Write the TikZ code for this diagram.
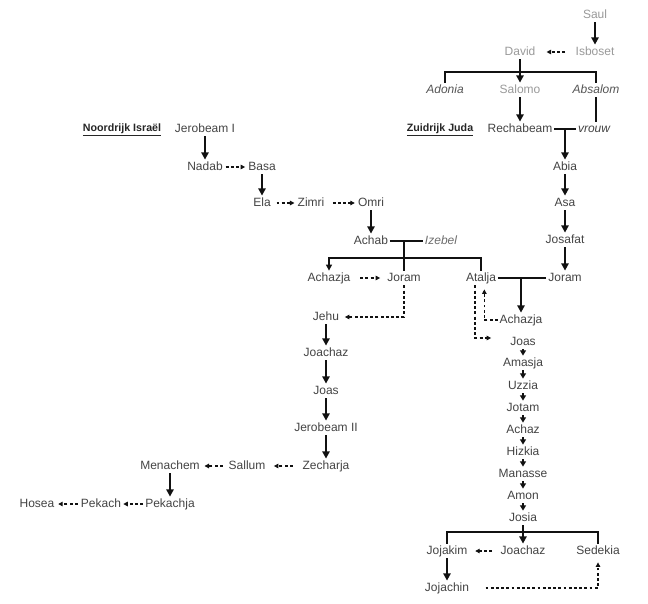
\documentclass[tikz,border=0pt]{standalone}
\usepackage{fontspec}
\setmainfont{Liberation Sans}
\usetikzlibrary{arrows.meta}
\definecolor{txt}{HTML}{444444}
\definecolor{lgt}{HTML}{9A9A9A}
\definecolor{ital}{HTML}{555555}
\definecolor{izb}{HTML}{6E6E6E}
\definecolor{ln}{HTML}{111111}
\begin{document}
\begin{tikzpicture}[x=0.75pt,y=-0.75pt,
  nm/.style={font=\fontsize{9}{10}\selectfont, text=txt, inner sep=1.2pt, text height=6.5pt, text depth=1.8pt},
  pale/.style={nm, text=lgt},
  it/.style={nm, text=ital, font=\fontsize{9}{10}\selectfont\itshape},
  realm/.style={font=\fontsize{8}{9}\selectfont\bfseries, text=black!85, inner sep=1pt},
  fam/.style={draw=ln, line width=0.9pt},
  famarr/.style={fam, -{Triangle[length=4.5pt,width=4.5pt]}},
  sarr/.style={draw=ln, line width=1.5pt, -{Triangle[length=5.5pt,width=5.5pt]}},
  smarr/.style={draw=ln, line width=1.2pt, -{Triangle[length=4pt,width=4.5pt]}},
  darr/.style={draw=ln, line width=0.8pt, dash pattern=on 2.2pt off 1.7pt, -{Triangle[length=3.4pt,width=3.4pt]}}
]
\path[fill=white,use as bounding box] (0,0) rectangle (648,603);

% ---- top (united kingdom)
\node[pale] (saul) at (595,15) {Saul};
\node[pale] (david) at (520,52) {David};
\node[pale] (isboset) at (595,52) {Isboset};
\node[it] (adonia) at (445,90) {Adonia};
\node[pale] (salomo) at (520,90) {Salomo};
\node[it] (absalom) at (596,90) {Absalom};

% ---- Juda
\node[realm] (zuid) at (440,130) {\underline{Zuidrijk Juda}};
\node[nm] (rech) at (520,129) {Rechabeam};
\node[it, text=txt] (vrouw) at (594,129) {vrouw};
\node[nm] (abia) at (565,167) {Abia};
\node[nm] (asa) at (565,203) {Asa};
\node[nm] (josafat) at (565,240) {Josafat};
\node[nm] (joramJ) at (565,278) {Joram};
\node[nm] (achazjaJ) at (521,320) {Achazja};
\node[nm] (joasJ) at (523,342) {Joas};
\node[nm] (amasja) at (523,363) {Amasja};
\node[nm] (uzzia) at (523,386) {Uzzia};
\node[nm] (jotam) at (523,408) {Jotam};
\node[nm] (achaz) at (523,430) {Achaz};
\node[nm] (hizkia) at (523,452) {Hizkia};
\node[nm] (manasse) at (523,474) {Manasse};
\node[nm] (amon) at (523,496) {Amon};
\node[nm] (josia) at (523,518) {Josia};
\node[nm] (jojakim) at (447,551) {Jojakim};
\node[nm] (joachazJ) at (523,551) {Joachaz};
\node[nm] (sedekia) at (598,551) {Sedekia};
\node[nm] (jojachin) at (447,588) {Jojachin};

% ---- Israel
\node[realm] (noord) at (122,130) {\underline{Noordrijk Israël}};
\node[nm] (jer1) at (205,129) {Jerobeam I};
\node[nm] (nadab) at (205,167) {Nadab};
\node[nm] (basa) at (262,167) {Basa};
\node[nm] (ela) at (262,203) {Ela};
\node[nm] (zimri) at (311,203) {Zimri};
\node[nm] (omri) at (371,203) {Omri};
\node[nm] (achab) at (371,241) {Achab};
\node[it, text=izb] (izebel) at (441,241) {Izebel};
\node[nm] (achazjaN) at (329,278) {Achazja};
\node[nm] (joramN) at (404,278) {Joram};
\node[nm] (atalja) at (481,278) {Atalja};
\node[nm] (jehu) at (326,317) {Jehu};
\node[nm] (joachazN) at (326,353) {Joachaz};
\node[nm] (joasN) at (326,391) {Joas};
\node[nm] (jer2) at (326,428) {Jerobeam II};
\node[nm] (zecharja) at (326,466) {Zecharja};
\node[nm] (sallum) at (247,466) {Sallum};
\node[nm] (menachem) at (170,466) {Menachem};
\node[nm] (pekachja) at (170,504) {Pekachja};
\node[nm] (pekach) at (101,504) {Pekach};
\node[nm] (hosea) at (37,504) {Hosea};

% ---- connectors: top
\draw[sarr] (saul) -- (isboset);
\draw[darr, shorten <=6.5pt, shorten >=7pt] (isboset) -- (david);
\coordinate (dbar) at (520,72);
\draw[fam] (adonia.north) |- (dbar) -| (absalom.north);
\draw[sarr] (david) -- (salomo);
\draw[sarr] (salomo) -- (rech);
\draw[fam] (absalom.south) -- (absalom.south |- vrouw.north);

% ---- Juda
\draw[fam] (rech.east) -- (vrouw.west);
\draw[sarr] (abia |- rech.east) -- (abia.north);
\draw[sarr] (abia) -- (asa);
\draw[sarr] (asa) -- (josafat);
\draw[sarr] (josafat) -- (joramJ);
\draw[fam] (atalja.east) -- (joramJ.west);
\draw[sarr] (achazjaJ |- atalja.east) -- (achazjaJ.north);
\draw[darr, shorten >=3pt] (achazjaJ.west) -| ([xshift=2.5pt]atalja.south);
\draw[darr, shorten >=13pt] ([xshift=-4.5pt]atalja.south) |- ([yshift=3pt]joasJ.west);
\draw[smarr] (joasJ) -- (amasja);
\draw[smarr] (amasja) -- (uzzia);
\draw[smarr] (uzzia) -- (jotam);
\draw[smarr] (jotam) -- (achaz);
\draw[smarr] (achaz) -- (hizkia);
\draw[smarr] (hizkia) -- (manasse);
\draw[smarr] (manasse) -- (amon);
\draw[smarr] (amon) -- (josia);
\coordinate (jbar) at (523,532);
\draw[fam] (jojakim.north) |- (jbar) -| (sedekia.north);
\draw[sarr] (josia) -- (joachazJ);
\draw[darr, shorten <=5pt, shorten >=4.5pt] (joachazJ) -- (jojakim);
\draw[sarr] (jojakim) -- (jojachin);
\draw[darr, shorten <=11pt, shorten >=3pt] (jojachin.east) -| (sedekia.south);

% ---- Israel
\draw[sarr] (jer1) -- (nadab);
\draw[darr, shorten <=0.8pt, shorten >=1pt] (nadab) -- (basa);
\draw[sarr] (basa) -- (ela);
\draw[darr, shorten <=3pt, shorten >=1pt] (ela) -- (zimri);
\draw[darr, shorten <=5pt, shorten >=1pt] (zimri) -- (omri);
\draw[sarr] (omri) -- (achab);
\draw[fam] (achab.east) -- (izebel.west);
\draw[fam] (joramN |- achab.east) -- (joramN.north);
\coordinate (abar) at (404,258);
\draw[fam] (atalja.north) |- (abar);
\draw[famarr] (abar) -| (achazjaN.north);
\draw[darr, shorten <=6pt, shorten >=4pt] (achazjaN) -- (joramN);
\draw[darr, shorten >=3pt] (joramN.south) |- (jehu.east);
\draw[sarr] (jehu) -- (joachazN);
\draw[sarr] (joachazN) -- (joasN);
\draw[sarr] (joasN) -- (jer2);
\draw[sarr] (jer2) -- (zecharja);
\draw[darr, shorten <=6pt, shorten >=5pt] (zecharja) -- (sallum);
\draw[darr, shorten <=3pt, shorten >=2.2pt] (sallum) -- (menachem);
\draw[sarr] (menachem) -- (pekachja);
\draw[darr, shorten <=0.3pt, shorten >=0.3pt] (pekachja) -- (pekach);
\draw[darr, shorten <=1pt, shorten >=1.5pt] (pekach) -- (hosea);
\end{tikzpicture}
\end{document}
